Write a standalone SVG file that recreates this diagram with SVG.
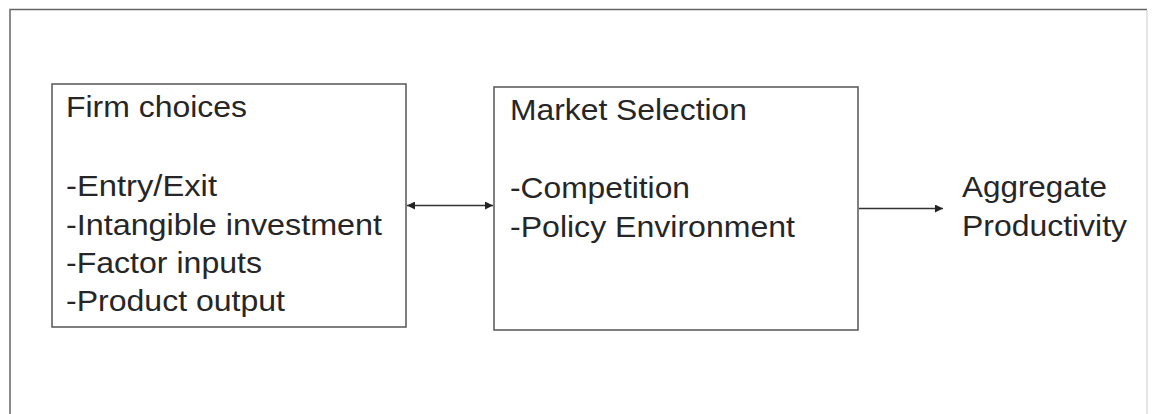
<svg xmlns="http://www.w3.org/2000/svg" width="1152" height="414" viewBox="0 0 1152 414">
<style>
.t{font-family:"Liberation Sans",Arial,sans-serif;font-size:29px;fill:#262626}
.box{fill:#fff;stroke:#555;stroke-width:1.5}
.c{stroke:#333;stroke-width:1.5;fill:none}
</style>
<defs>
<marker id="ah" viewBox="0 0 10 10" refX="10" refY="5" markerWidth="10" markerHeight="8" markerUnits="userSpaceOnUse" orient="auto-start-reverse">
<path d="M0,0 L10,5 L0,10 z" fill="#222"/>
</marker>
</defs>
<rect width="1152" height="414" fill="#fff"/>
<path d="M10,420 L10,9.5 L1147,9.5" fill="none" stroke="#666" stroke-width="1.5"/>
<path d="M1147,10 L1147,420" fill="none" stroke="#ddd" stroke-width="1.5"/>
<g id="firm">
<rect class="box" x="52" y="84" width="354" height="243"/>
<text class="t" x="66" y="117" textLength="181" lengthAdjust="spacingAndGlyphs">Firm choices</text>
<text class="t" x="66" y="196" textLength="151" lengthAdjust="spacingAndGlyphs">-Entry/Exit</text>
<text class="t" x="66" y="235" textLength="316" lengthAdjust="spacingAndGlyphs">-Intangible investment</text>
<text class="t" x="66" y="273" textLength="196" lengthAdjust="spacingAndGlyphs">-Factor inputs</text>
<text class="t" x="66" y="311" textLength="219" lengthAdjust="spacingAndGlyphs">-Product output</text>
</g>
<g id="market">
<rect class="box" x="494" y="87" width="364" height="243"/>
<text class="t" x="510" y="120" textLength="237" lengthAdjust="spacingAndGlyphs">Market Selection</text>
<text class="t" x="510" y="198" textLength="180" lengthAdjust="spacingAndGlyphs">-Competition</text>
<text class="t" x="510" y="237" textLength="285" lengthAdjust="spacingAndGlyphs">-Policy Environment</text>
</g>
<g id="aggregate">
<text class="t" x="962" y="197" textLength="145" lengthAdjust="spacingAndGlyphs">Aggregate</text>
<text class="t" x="962" y="236" textLength="165" lengthAdjust="spacingAndGlyphs">Productivity</text>
</g>
<g id="connectors">
<line class="c" x1="407" y1="205.5" x2="493" y2="205.5" marker-start="url(#ah)" marker-end="url(#ah)"/>
<line class="c" x1="859" y1="208.5" x2="943" y2="208.5" marker-end="url(#ah)"/>
</g>
</svg>
